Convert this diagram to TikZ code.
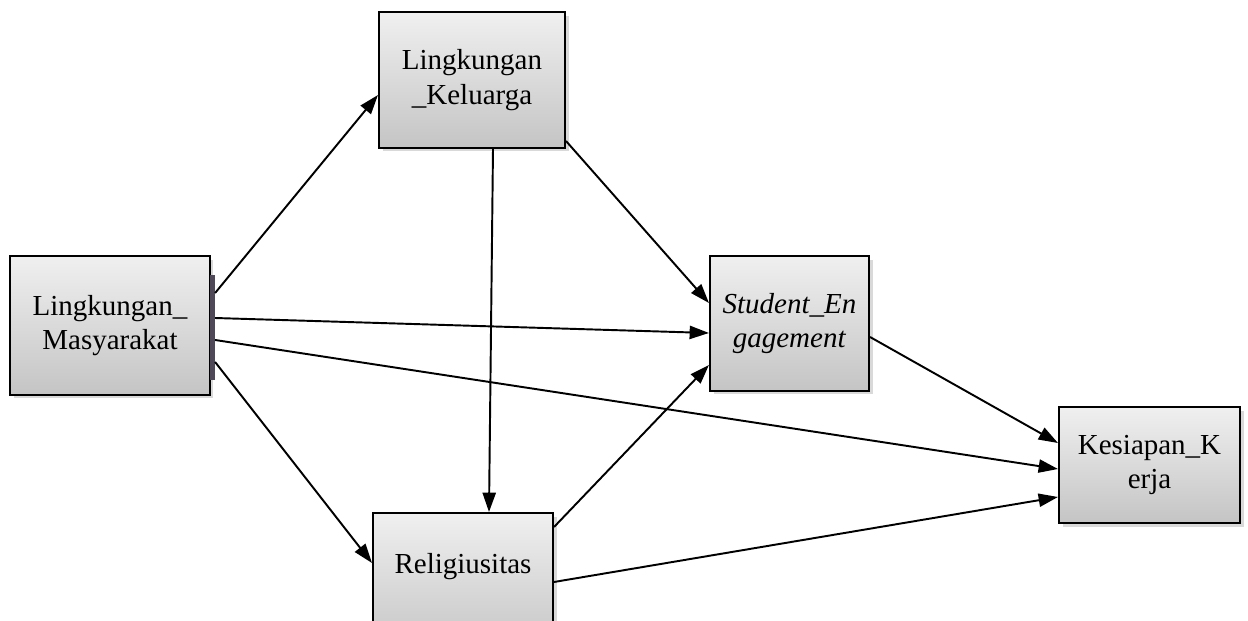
\documentclass[tikz,border=0pt]{standalone}
\usepackage{fontspec}
\setmainfont{Liberation Serif}
\usetikzlibrary{arrows.meta,shadows}

\definecolor{barcol}{HTML}{4F4858}

\tikzset{
  box/.style={draw=black, line width=1.2pt, rectangle, inner sep=0pt, align=center,
    top color=gray!12, bottom color=gray!46,
    drop shadow={shadow xshift=2pt, shadow yshift=-2pt, opacity=0.3},
    font=\fontsize{16.5}{19.5}\selectfont},
  link/.style={line width=1.1pt, -{Triangle[length=11pt,width=7.5pt]}}
}

\begin{document}
\begin{tikzpicture}[x=0.02cm, y=-0.02cm]
\useasboundingbox (0,0) rectangle (1248,621);

% boxes
\node[box, minimum width=4cm, minimum height=2.78cm] (LM) at (110,325.5) {Lingkungan\_\\Masyarakat};
\node[fill=barcol, inner sep=0pt, minimum width=0.09cm, minimum height=2.1cm] (bar) at (212.5,327.5) {};
\node[box, minimum width=3.72cm, minimum height=2.72cm] (LK) at (472,80) {Lingkungan\\\_Keluarga};
\node[box, minimum width=3.18cm, minimum height=2.7cm] (SE) at (789.5,323.5) {\textit{Student\_En}\\\textit{gagement}};
\node[box, minimum width=3.62cm, minimum height=2.32cm] (KK) at (1149.5,465) {Kesiapan\_K\\erja};
\node[box, anchor=north, minimum width=3.6cm, text height=1.2cm, text depth=1.6cm] (Rel) at (463,512) {Religiusitas};

% paths
\draw[link] ([yshift=0.69cm]bar.east) -- ([yshift=-0.3cm]LK.west);
\draw[link] ([yshift=0.19cm]bar.east) -- ([yshift=-0.19cm]SE.west);
\draw[link] ([yshift=-0.25cm]bar.east) -- ([yshift=-0.08cm]KK.west);
\draw[link] ([yshift=-0.69cm]bar.east) -- ([yshift=-1.02cm]Rel.north west);
\draw[link] ([xshift=0.42cm]LK.south) -- ([xshift=0.52cm]Rel.north);
\draw[link] ([yshift=0.16cm]LK.south east) -- ([yshift=0.41cm]SE.west);
\draw[link] ([yshift=-0.3cm]Rel.north east) -- ([yshift=-0.83cm]SE.west);
\draw[link] ([yshift=-1.4cm]Rel.north east) -- ([yshift=-0.64cm]KK.west);
\draw[link] ([yshift=-0.27cm]SE.east) -- ([yshift=0.44cm]KK.west);
\end{tikzpicture}
\end{document}
